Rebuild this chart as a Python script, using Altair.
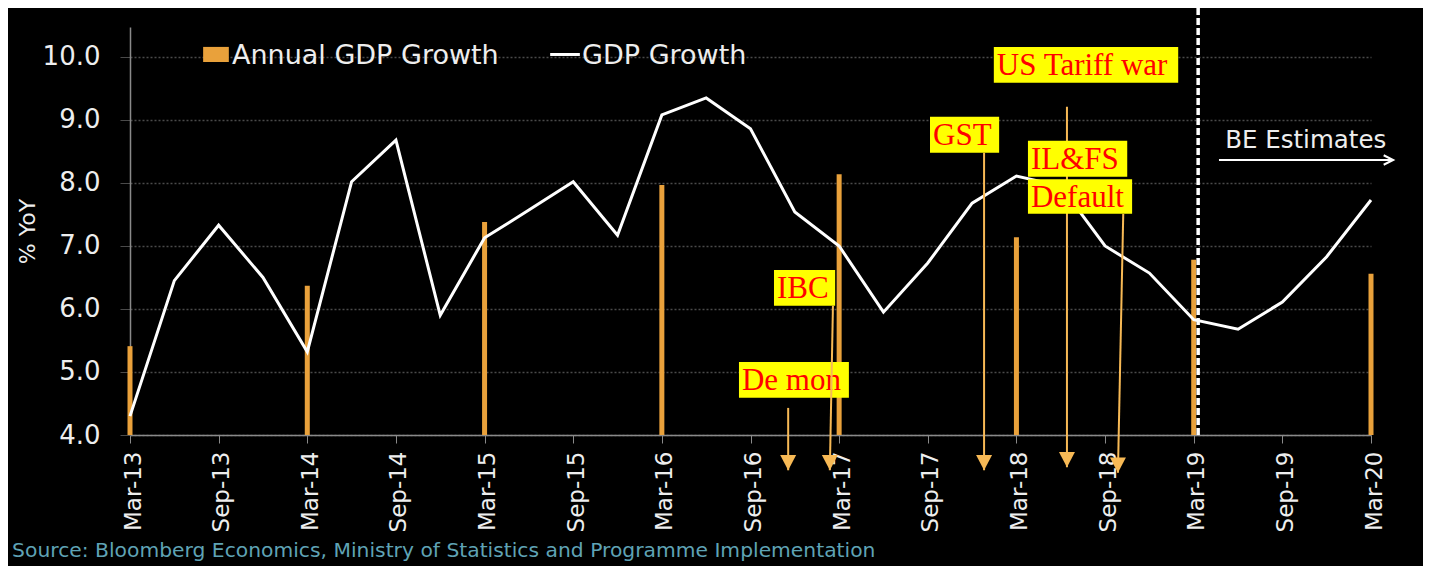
import altair as alt
import pandas as pd

# ---------------- data ----------------
quarters = ["Mar-13", "Jun-13", "Sep-13", "Dec-13", "Mar-14", "Jun-14", "Sep-14", "Dec-14",
            "Mar-15", "Jun-15", "Sep-15", "Dec-15", "Mar-16", "Jun-16", "Sep-16", "Dec-16",
            "Mar-17", "Jun-17", "Sep-17", "Dec-17", "Mar-18", "Jun-18", "Sep-18", "Dec-18",
            "Mar-19", "Jun-19", "Sep-19", "Dec-19", "Mar-20"]
gdp_growth = [4.30, 6.45, 7.33, 6.50, 5.32, 8.02, 8.68, 5.90,
              7.13, 7.57, 8.02, 7.17, 9.08, 9.35, 8.86, 7.54,
              7.00, 5.95, 6.73, 7.68, 8.11, 7.95, 7.00, 6.57,
              5.83, 5.68, 6.11, 6.83, 7.73]
annual_quarters = ["Mar-13", "Mar-14", "Mar-15", "Mar-16", "Mar-17", "Mar-18", "Mar-19", "Mar-20"]
annual_growth = [5.41, 6.37, 7.38, 7.97, 8.14, 7.14, 6.78, 6.56]

y_ticks = [4.0, 5.0, 6.0, 7.0, 8.0, 9.0, 10.0]

# event labels (boxes in quarter-index / %YoY units)
event_text = ["De mon", "IBC", "GST", "US Tariff war", "IL&FS", "Default"]
event_x0 = [13.74, 14.53, 18.05, 19.49, 20.26, 20.26]
event_x1 = [16.22, 15.91, 19.61, 23.65, 22.50, 22.61]
event_y0 = [4.59, 6.05, 8.48, 9.59, 8.10, 7.51]
event_y1 = [5.16, 6.62, 9.05, 10.16, 8.67, 8.06]

arrow_name = ["De mon", "IBC", "GST", "US Tariff war", "IL&FS Default"]
arrow_x_start = [14.85, 15.86, 19.27, 21.14, 22.41]
arrow_x_end = [14.85, 15.79, 19.27, 21.14, 22.29]
arrow_y_start = [4.43, 6.05, 8.48, 9.21, 7.51]
arrow_y_end = [3.44, 3.44, 3.44, 3.49, 3.40]
arrow_on_top = [False, True, False, False, False]

estimate_start = 24.10          # forecast divider (just after Mar-19)
estimate_label = "BE Estimates"
legend_labels = ["Annual GDP Growth", "GDP Growth"]
source_text = "Source: Bloomberg Economics, Ministry of Statistics and Programme Implementation"

# ---------------- styling ----------------
ORANGE = "#E9A13B"
ARROW = "#F7B955"
GRID = "#4a4a4a"
AXIS = "#8a8a8a"
SANS = "DejaVu Sans"
SERIF = "Liberation Serif"

X_DOM = [0, 28]
Y_DOM = [4.0, 10.476]

label_expr = "[" + ",".join("'" + q + "'" for q in quarters) + "][datum.value]"

x_axis = alt.Axis(values=list(range(0, 29, 2)), labelExpr=label_expr, title="",
                  labelAngle=270, labelFontSize=23, labelFont=SANS, labelColor="#eeeeee",
                  labelPadding=8, labelOffset=3, tickSize=8, tickColor=AXIS, domainColor=AXIS,
                  domainWidth=1.5, grid=False, labelOverlap=False)
y_axis = alt.Axis(values=y_ticks, format=".1f", title="% YoY", titleFontSize=22,
                  titleFont=SANS, titleFontWeight="normal", titleColor="#eeeeee",
                  titlePadding=3, labelFontSize=26, labelFont=SANS, labelColor="#eeeeee",
                  labelPadding=20, tickSize=10, tickColor=GRID, domainColor=AXIS,
                  domainWidth=1.5, grid=True, gridColor=GRID, gridDash=[2, 2], gridWidth=1.5)


def X(field):
    return alt.X(field, type="quantitative", scale=alt.Scale(domain=X_DOM, nice=False, zero=False), axis=x_axis)


def Y(field):
    return alt.Y(field, type="quantitative", scale=alt.Scale(domain=Y_DOM, nice=False, zero=False), axis=y_axis)


line_df = pd.DataFrame({"q": quarters, "i": range(len(quarters)), "v": gdp_growth})
bar_df = pd.DataFrame({"q": annual_quarters,
                       "i": [quarters.index(q) for q in annual_quarters],
                       "v": annual_growth, "base": 4.0})
ev_df = pd.DataFrame({"t": event_text, "x0": event_x0, "x1": event_x1, "y0": event_y0, "y1": event_y1})
ev_df["ym"] = (ev_df["y0"] + ev_df["y1"]) / 2
ar_df = pd.DataFrame({"n": arrow_name, "xs": arrow_x_start, "xe": arrow_x_end,
                      "ys": arrow_y_start, "ye": arrow_y_end, "top": arrow_on_top})

bars = alt.Chart(bar_df).mark_rule(color=ORANGE, strokeWidth=5).encode(
    x=X("i"), y=Y("base"), y2="v")

line = alt.Chart(line_df).mark_line(color="white", strokeWidth=3, strokeJoin="miter").encode(
    x=X("i"), y=Y("v"))

divider_df = pd.DataFrame({"x": [estimate_start], "y0": [4.0], "y1": [10.78]})
divider = alt.Chart(divider_df).mark_rule(color="white", strokeWidth=3.5, strokeDash=[7, 3]).encode(
    x=X("x"), y=Y("y0"), y2="y1")

HEAD = "M-1,-1.9L1,-1.9L0,0Z"


def arrows(on_top):
    d = ar_df[ar_df["top"] == on_top]
    shaft = alt.Chart(d).mark_rule(color=ARROW, strokeWidth=2).encode(
        x=X("xs"), y=Y("ys"), x2="xe", y2="ye")
    head = alt.Chart(d).mark_point(shape=HEAD, size=256, filled=True, color=ARROW, opacity=1).encode(
        x=X("xe"), y=Y("ye"))
    return shaft + head


boxes = alt.Chart(ev_df).mark_rect(color="#FFFF00").encode(
    x=X("x0"), x2="x1", y=Y("y0"), y2="y1")
box_text = alt.Chart(ev_df).mark_text(font=SERIF, fontSize=31, color="#FF0000",
                                      align="left", baseline="middle", dx=3, dy=1).encode(
    x=X("x0"), y=Y("ym"), text="t")

# BE estimates annotation
be_df = pd.DataFrame({"x0": [24.57], "x1": [28.50], "y": [8.365], "tx": [24.71], "ty": [8.667],
                      "t": [estimate_label]})
be_line = alt.Chart(be_df).mark_rule(color="white", strokeWidth=2).encode(
    x=X("x0"), x2="x1", y=Y("y"))
be_head = alt.Chart(be_df).mark_point(shape="M-2,-1L0,0L-2,1", size=90, filled=False,
                                      color="white", strokeWidth=2, opacity=1).encode(
    x=X("x1"), y=Y("y"))
be_text = alt.Chart(be_df).mark_text(font=SANS, fontSize=24.5, color="#eeeeee",
                                     align="left", baseline="middle").encode(
    x=X("tx"), y=Y("ty"), text="t")

# legend
leg_rect_df = pd.DataFrame({"x0": [1.65], "x1": [2.23], "y0": [9.92], "y1": [10.16]})
leg_rect = alt.Chart(leg_rect_df).mark_rect(color=ORANGE).encode(
    x=X("x0"), x2="x1", y=Y("y0"), y2="y1")
leg_line_df = pd.DataFrame({"x0": [9.48], "x1": [10.15], "y": [10.04]})
leg_line = alt.Chart(leg_line_df).mark_rule(color="white", strokeWidth=3).encode(
    x=X("x0"), x2="x1", y=Y("y"))
leg_text_df = pd.DataFrame({"x": [2.30, 10.20], "y": [10.02, 10.02], "t": legend_labels})
leg_text = alt.Chart(leg_text_df).mark_text(font=SANS, fontSize=27, color="#eeeeee",
                                            align="left", baseline="middle").encode(
    x=X("x"), y=Y("y"), text="t")

src_df = pd.DataFrame({"x": [-2.66], "y": [2.16], "t": [source_text]})
src = alt.Chart(src_df).mark_text(font=SANS, fontSize=20.3, color="#5FA3B5",
                                  align="left", baseline="middle").encode(
    x=X("x"), y=Y("y"), text="t")

chart = alt.layer(
    bars, line, divider, arrows(False), boxes, box_text, arrows(True),
    be_line, be_head, be_text, leg_rect, leg_line, leg_text, src
).properties(
    width=1241, height=408,
    autosize=alt.AutoSizeParams(type="none"),
    padding={"left": 122, "top": 19, "right": 52, "bottom": 131},
    background="black",
).configure_view(stroke=None)

chart.save("out.html", embed_options={"renderer": "svg", "actions": False})
